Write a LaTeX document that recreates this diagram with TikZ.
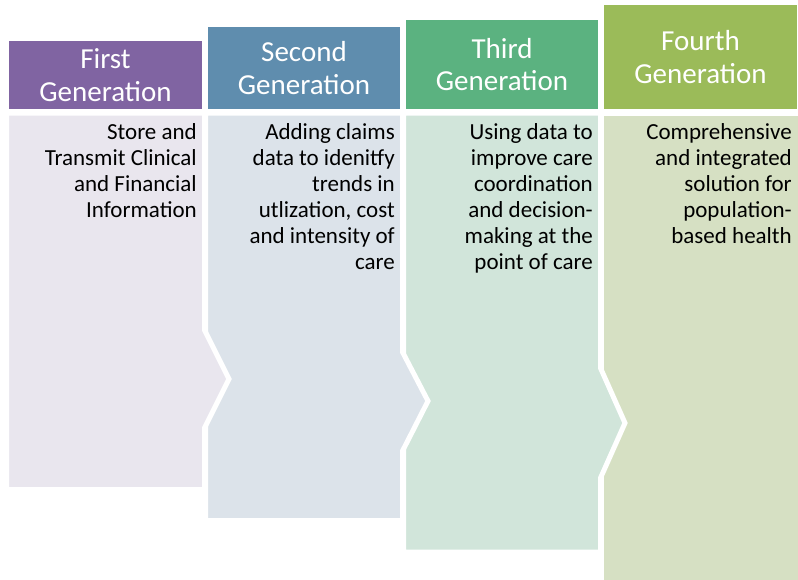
\documentclass[tikz,border=0pt]{standalone}
\usepackage{fontspec}
\setmainfont{Carlito}

\definecolor{genA}{HTML}{8064A2}
\definecolor{genB}{HTML}{5F8DAE}
\definecolor{genC}{HTML}{5BB280}
\definecolor{genD}{HTML}{9BBB59}
\definecolor{bodyA}{HTML}{E9E6EE}
\definecolor{bodyB}{HTML}{DCE3EA}
\definecolor{bodyC}{HTML}{D1E5DA}
\definecolor{bodyD}{HTML}{D6E0C3}

\begin{document}
\begin{tikzpicture}[
    x=1pt, y=-1pt,
    head/.style={rectangle, inner sep=0pt, text=white, align=center,
        font=\fontsize{29}{32.5}\selectfont},
    body/.style={draw=white, line width=5pt, line join=miter},
    note/.style={anchor=north east, inner sep=0pt, align=right,
        font=\fontsize{23}{26}\selectfont},
]
\useasboundingbox (0,0) rectangle (798,579);

% Четвёртое поколение (сзади)
\path[body, fill=bodyD] (601.5,113) -- (800,113) -- (800,582) -- (601.5,582) -- cycle;

% Третье поколение
\path[body, fill=bodyC] (403.5,113) -- (600.5,113) -- (600.5,368) -- (625,423)
    -- (600.5,478) -- (600.5,552) -- (403.5,552) -- cycle;

% Второе поколение
\path[body, fill=bodyB] (205.5,113) -- (402.5,113) -- (402.5,352) -- (428,401)
    -- (402.5,451) -- (402.5,520.5) -- (205.5,520.5) -- cycle;

% Первое поколение (спереди)
\path[body, fill=bodyA] (6.5,113) -- (204.5,113) -- (204.5,330) -- (229,379)
    -- (204.5,428) -- (204.5,489.5) -- (6.5,489.5) -- cycle;

% Заголовки
\node[head, fill=genA, minimum width=193pt, minimum height=68pt] (hd1) at (105.5,75) {First\\Generation};
\node[head, fill=genB, minimum width=192pt, minimum height=82pt] (hd2) at (304,68) {Second\\Generation};
\node[head, fill=genC, minimum width=192pt, minimum height=89pt] (hd3) at (502,64.5) {Third\\Generation};
\node[head, fill=genD, minimum width=193pt, minimum height=104pt] (hd4) at (700.5,57) {Fourth\\Generation};

% Описания
\node[note] (txt1) at (197,123) {Store and\\Transmit Clinical\\and Financial\\Information};
\node[note] (txt2) at (395,123) {Adding claims\\data to idenitfy\\trends in\\utlization, cost\\and intensity of\\care};
\node[note] (txt3) at (593,123) {Using data to\\improve care\\coordination\\and decision-\\making at the\\point of care};
\node[note] (txt4) at (792,123) {Comprehensive\\and integrated\\solution for\\population-\\based health};

\end{tikzpicture}
\end{document}
